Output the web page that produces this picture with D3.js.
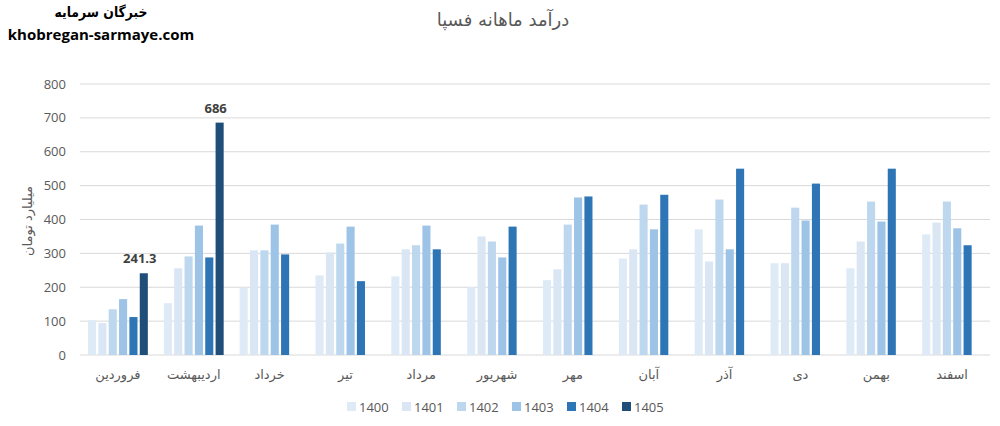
<!DOCTYPE html>
<html>
<head>
<meta charset="utf-8">
<script src="https://cdn.jsdelivr.net/npm/d3@7"></script>
<style>
  body { margin: 0; background: #fff; }
  svg { display: block; }
  .num { font-family: "Open Sans", "Liberation Sans", sans-serif; }
  .fa { font-family: "DejaVu Sans", sans-serif; }
</style>
</head>
<body>
<div id="chart"></div>
<script>
// ماه‌ها (از چپ به راست همان‌طور که در نمودار آمده)
const months = ["فروردین", "اردیبهشت", "خرداد", "تیر", "مرداد", "شهریور",
                "مهر", "آبان", "آذر", "دی", "بهمن", "اسفند"];
const years = ["1400", "1401", "1402", "1403", "1404", "1405"];

// درآمد ماهانه، میلیارد تومان
const v1400 = [103, 153, 198, 235, 232, 200, 221, 285, 371, 271, 256, 356];
const v1401 = [94, 256, 309, 303, 312, 350, 253, 312, 276, 271, 335, 391];
const v1402 = [135, 291, 309, 329, 324, 335, 385, 444, 459, 435, 453, 453];
const v1403 = [165, 382, 385, 379, 382, 288, 465, 371, 312, 397, 394, 374];
const v1404 = [112, 288, 297, 218, 312, 379, 468, 473, 550, 506, 550, 324];
const v1405 = [241.3, 686, null, null, null, null, null, null, null, null, null, null];

const yTicks = [0, 100, 200, 300, 400, 500, 600, 700, 800];
const colors = ["#deebf7", "#dae6f4", "#bdd7ee", "#9dc3e6", "#2e75b6", "#1f4e79"];

const series = [v1400, v1401, v1402, v1403, v1404, v1405];

const W = 1000, H = 426;
const margin = {left: 80, right: 10, top: 84, bottom: 71};

const svg = d3.select("#chart").append("svg")
  .attr("width", W).attr("height", H);

const x0 = d3.scaleBand().domain(months).range([margin.left, W - margin.right]);
const x1 = d3.scaleBand().domain(years)
  .range([8, x0.bandwidth() - 8]).paddingInner(0.22);
const y = d3.scaleLinear().domain([0, 800]).range([H - margin.bottom, margin.top]);

// خطوط شبکه
svg.append("g").selectAll("line").data(yTicks).join("line")
  .attr("x1", margin.left).attr("x2", W - margin.right)
  .attr("y1", d => y(d)).attr("y2", d => y(d))
  .attr("stroke", "#d9d9d9").attr("stroke-width", 1);

// برچسب‌های محور عمودی
svg.append("g").selectAll("text").data(yTicks).join("text")
  .attr("class", "num")
  .attr("x", 66).attr("y", d => y(d) + 4.5)
  .attr("text-anchor", "end")
  .attr("font-size", 13).attr("fill", "#595959")
  .text(d => d);

// ستون‌ها
series.forEach((vals, si) => {
  svg.append("g").selectAll("rect")
    .data(vals.map((v, i) => ({m: months[i], v: v})).filter(d => d.v != null))
    .join("rect")
    .attr("x", d => x0(d.m) + x1(years[si]))
    .attr("width", x1.bandwidth())
    .attr("y", d => y(d.v))
    .attr("height", d => y(0) - y(d.v))
    .attr("fill", colors[si]);
});

// برچسب داده برای ۱۴۰۵
svg.append("g").selectAll("text")
  .data(v1405.map((v, i) => ({m: months[i], v: v})).filter(d => d.v != null))
  .join("text")
  .attr("class", "num")
  .attr("x", d => x0(d.m) + x1("1405") + x1.bandwidth() / 2 - 4)
  .attr("y", d => y(d.v) - 10)
  .attr("text-anchor", "middle")
  .attr("font-size", 13).attr("font-weight", "bold").attr("fill", "#404040")
  .text(d => d.v);

// برچسب ماه‌ها
svg.append("g").selectAll("text").data(months).join("text")
  .attr("class", "fa")
  .attr("x", d => x0(d) + x0.bandwidth() / 2)
  .attr("y", y(0) + 24)
  .attr("text-anchor", "middle")
  .attr("font-size", 13).attr("fill", "#595959")
  .text(d => d);

// عنوان محور عمودی
svg.append("text")
  .attr("class", "fa")
  .attr("transform", "translate(32," + 221 + ") rotate(-90)")
  .attr("text-anchor", "middle")
  .attr("font-size", 13).attr("fill", "#595959")
  .text("میلیارد تومان");

// عنوان
svg.append("text")
  .attr("class", "fa")
  .attr("x", 503).attr("y", 26)
  .attr("text-anchor", "middle")
  .attr("font-size", 18).attr("fill", "#595959")
  .text("درآمد ماهانه فسپا");

// نشان سایت
svg.append("text")
  .attr("class", "fa")
  .attr("x", 101).attr("y", 17)
  .attr("text-anchor", "middle")
  .attr("font-size", 14).attr("font-weight", "bold").attr("fill", "#000")
  .attr("textLength", 93).attr("lengthAdjust", "spacingAndGlyphs")
  .text("خبرگان سرمایه");
svg.append("text")
  .attr("class", "num")
  .attr("x", 101).attr("y", 40)
  .attr("text-anchor", "middle")
  .attr("font-size", 15).attr("font-weight", "bold").attr("fill", "#000")
  .text("khobregan-sarmaye.com");

// راهنما
const legend = svg.append("g").selectAll("g").data(years).join("g")
  .attr("transform", (d, i) => "translate(" + (347 + i * 55) + ",402)");
legend.append("rect")
  .attr("width", 9).attr("height", 9)
  .attr("fill", (d, i) => colors[i]);
legend.append("text")
  .attr("class", "num")
  .attr("x", 12).attr("y", 9.5)
  .attr("font-size", 13).attr("fill", "#595959")
  .text(d => d);
</script>
</body>
</html>
